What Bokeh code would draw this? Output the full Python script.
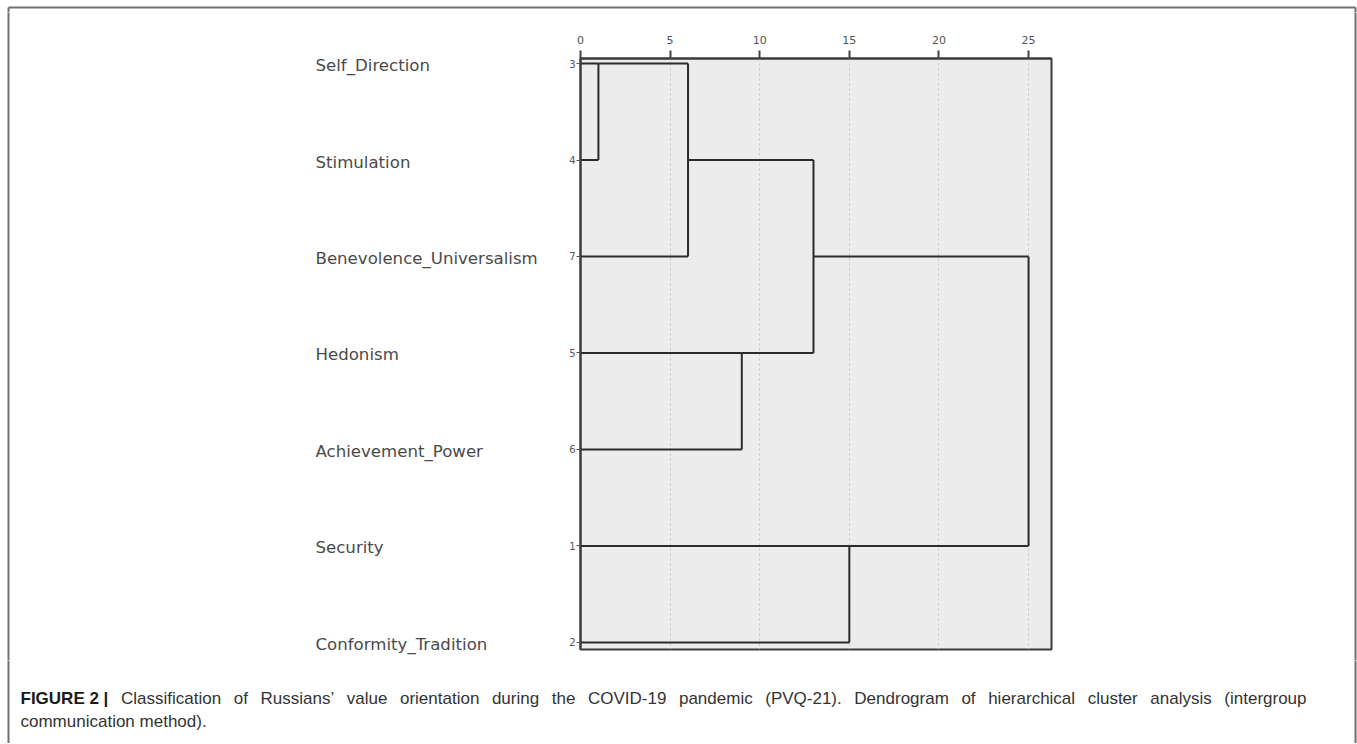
from bokeh.plotting import figure
from bokeh.models import ColumnDataSource, Range1d, FixedTicker
from bokeh.layouts import row, column
from bokeh.core.properties import value
from bokeh.embed import file_html
from bokeh.resources import INLINE

# ---------------- data ----------------
leaf_names = ["Self_Direction", "Stimulation", "Benevolence_Universalism", "Hedonism",
              "Achievement_Power", "Security", "Conformity_Tradition"]
case_ids = [3, 4, 7, 5, 6, 1, 2]
# merges (leaves are 0..6, new clusters numbered 7.. in order of merging)
merge_left = [0, 7, 3, 8, 5, 10]
merge_right = [1, 2, 4, 9, 6, 11]
merge_height = [1, 6, 9, 13, 15, 25]
x_ticks = [0, 5, 10, 15, 20, 25]

caption_bold = "FIGURE 2 |"
caption_line1 = ("Classification of Russians\u2019 value orientation during the COVID-19 pandemic "
                 "(PVQ-21). Dendrogram of hierarchical cluster analysis (intergroup")
caption_line2 = "communication method)."

# ---------------- dendrogram geometry from merges ----------------
n = len(leaf_names)
node_y = {i: i for i in range(n)}
node_h = {i: 0 for i in range(n)}
x0, x1, y0, y1 = [], [], [], []
for k, (a, b, h) in enumerate(zip(merge_left, merge_right, merge_height)):
    for c in (a, b):
        x0.append(node_h[c]); x1.append(h); y0.append(node_y[c]); y1.append(node_y[c])
    x0.append(h); x1.append(h); y0.append(node_y[a]); y1.append(node_y[b])
    nid = n + k
    node_y[nid] = (node_y[a] + node_y[b]) // 2
    node_h[nid] = h
seg = ColumnDataSource(dict(x0=x0, x1=x1, y0=y0, y1=y1))

# ---------------- layout constants (page pixels) ----------------
PAGE_W = 1357
STRIP_H = 12
ROW_H = 648                 # row of panels: page y 12 .. 660
LEFT_W = 545
MID_W = 515
RIGHT_W = PAGE_W - LEFT_W - MID_W
CAP_H = 83
FRAME_TOP, FRAME_BOTTOM = 58, 649          # page y of dendrogram frame
ROW_TOP, ROW_BOTTOM = -0.052, 6.073        # row values at frame top / bottom
BORDER = "#707070"
BX_L, BX_R, BY_T = 8, PAGE_W - 2, 7        # outer frame lines (page px)


def blank(w, h, xr, yr):
    f = figure(width=w, height=h, output_backend="svg", toolbar_location=None,
               x_range=xr, y_range=yr, x_axis_location=None, y_axis_location=None,
               min_border=0)
    f.outline_line_color = None
    f.background_fill_color = "white"
    f.border_fill_color = "white"
    for g in f.grid:
        g.grid_line_color = None
    return f


# ---------------- top strip (outer frame top) ----------------
ft = blank(PAGE_W, STRIP_H, Range1d(0, PAGE_W), Range1d(STRIP_H, 0))
ft.segment(x0=[BX_L, BX_L, BX_R], y0=[BY_T, BY_T, BY_T], x1=[BX_R, BX_L, BX_R],
           y1=[BY_T, STRIP_H + 5, STRIP_H + 5], line_color=BORDER, line_width=2)

# ---------------- dendrogram ----------------
p = figure(width=MID_W, height=ROW_H, output_backend="svg", toolbar_location=None,
           x_range=Range1d(0, 26.28), y_range=Range1d(ROW_BOTTOM, ROW_TOP),
           x_axis_location="above",
           min_border_left=580 - LEFT_W, min_border_right=LEFT_W + MID_W - 1051,
           min_border_top=FRAME_TOP - STRIP_H, min_border_bottom=STRIP_H + ROW_H - FRAME_BOTTOM)
p.background_fill_color = "#ececec"
p.border_fill_color = "white"
p.outline_line_color = "#3a3a3a"
p.outline_line_width = 2
p.segment("x0", "y0", "x1", "y1", source=seg, line_color="#2b2b2b", line_width=2)

xa = p.xaxis[0]
xa.ticker = FixedTicker(ticks=x_ticks)
xa.minor_tick_line_color = None
xa.major_tick_in = 0
xa.major_tick_out = 8
xa.major_tick_line_color = "#444444"
xa.major_tick_line_width = 2
xa.axis_line_color = "#3a3a3a"
xa.axis_line_width = 2
xa.major_label_text_font = "DejaVu Sans"
xa.major_label_text_font_size = "11px"
xa.major_label_text_color = "#555555"
xa.major_label_standoff = 7

ya = p.yaxis[0]
ya.ticker = FixedTicker(ticks=list(range(n)))
ya.major_label_overrides = {i: str(c) for i, c in enumerate(case_ids)}
ya.minor_tick_line_color = None
ya.major_tick_in = 0
ya.major_tick_out = 4
ya.major_tick_line_color = "#555555"
ya.axis_line_color = "#3a3a3a"
ya.axis_line_width = 2
ya.major_label_text_font = "DejaVu Sans"
ya.major_label_text_font_size = "10px"
ya.major_label_text_color = "#555555"
ya.major_label_standoff = 1

p.ygrid.grid_line_color = None
p.xgrid.ticker = FixedTicker(ticks=x_ticks[1:])
p.xgrid.grid_line_color = "#c6c6c6"
p.xgrid.grid_line_dash = "2 3"

# ---------------- left panel: names ----------------
px_per_row = (FRAME_BOTTOM - FRAME_TOP) / (ROW_BOTTOM - ROW_TOP)
rows_top = ROW_TOP - (FRAME_TOP - STRIP_H) / px_per_row
rows_bottom = ROW_TOP + (STRIP_H + ROW_H - FRAME_TOP) / px_per_row
fl = blank(LEFT_W, ROW_H, Range1d(0, LEFT_W), Range1d(ROW_H, 0))
fl.extra_y_ranges = {"rows": Range1d(rows_bottom, rows_top)}
fl.text(x=[315] * n, y=list(range(n)), text=leaf_names, y_range_name="rows",
        text_font=value("DejaVu Sans"), text_font_size="16.6px", text_color="#4a4a4a",
        text_baseline="middle", text_align="left", y_offset=2)
fl.segment(x0=[BX_L], y0=[-5], x1=[BX_L], y1=[ROW_H + 5], line_color=BORDER, line_width=2)

# ---------------- right panel ----------------
fr = blank(RIGHT_W, ROW_H, Range1d(0, RIGHT_W), Range1d(ROW_H, 0))
rx = BX_R - LEFT_W - MID_W
fr.segment(x0=[rx], y0=[-5], x1=[rx], y1=[ROW_H + 5], line_color=BORDER, line_width=2)

# ---------------- caption (justified first line) ----------------
ARIAL = {  # advance widths per 1000 em (Arial / Liberation Sans)
    'a': 556, 'b': 556, 'c': 500, 'd': 556, 'e': 556, 'f': 278, 'g': 556, 'h': 556,
    'i': 222, 'j': 222, 'k': 500, 'l': 222, 'm': 833, 'n': 556, 'o': 556, 'p': 556,
    'q': 556, 'r': 333, 's': 500, 't': 278, 'u': 556, 'v': 500, 'w': 722, 'x': 500,
    'y': 500, 'z': 500, 'C': 722, 'D': 722, 'I': 278, 'O': 778, 'P': 667, 'Q': 778,
    'R': 722, 'V': 667, '0': 556, '1': 556, '2': 556, '9': 556, '-': 333, '(': 333,
    ')': 333, '.': 278, '\u2019': 222, ' ': 278}
FS = 17
CAP_X0, CAP_X1 = 20, 1306
bold_w = 5170 * FS / 1000          # "FIGURE 2 |" in Arial Bold


def tw(s):
    return sum(ARIAL.get(ch, 556) for ch in s) * FS / 1000


words = caption_line1.split(" ")
gap = (CAP_X1 - CAP_X0 - bold_w - sum(tw(w) for w in words)) / len(words)
wx = []
cur = CAP_X0 + bold_w + gap
for w in words:
    wx.append(cur)
    cur += tw(w) + gap

fc = blank(PAGE_W, CAP_H, Range1d(0, PAGE_W), Range1d(CAP_H, 0))
fc.segment(x0=[BX_L, BX_R], y0=[-5, -5], x1=[BX_L, BX_R], y1=[CAP_H + 5, CAP_H + 5],
           line_color=BORDER, line_width=2)
fc.text(x=[CAP_X0], y=[38], text=[caption_bold], text_font=value("Liberation Sans"),
        text_font_style="bold", text_font_size=f"{FS}px", text_color="#1a1a1a",
        text_baseline="middle")
fc.text(x=wx, y=[38] * len(words), text=words, text_font=value("Liberation Sans"),
        text_font_size=f"{FS}px", text_color="#333333", text_baseline="middle")
fc.text(x=[CAP_X0], y=[61], text=[caption_line2], text_font=value("Liberation Sans"),
        text_font_size=f"{FS}px", text_color="#333333", text_baseline="middle")

layout = column(ft, row(fl, column(p), fr), fc)
open("out.html", "w").write(file_html(layout, INLINE))
